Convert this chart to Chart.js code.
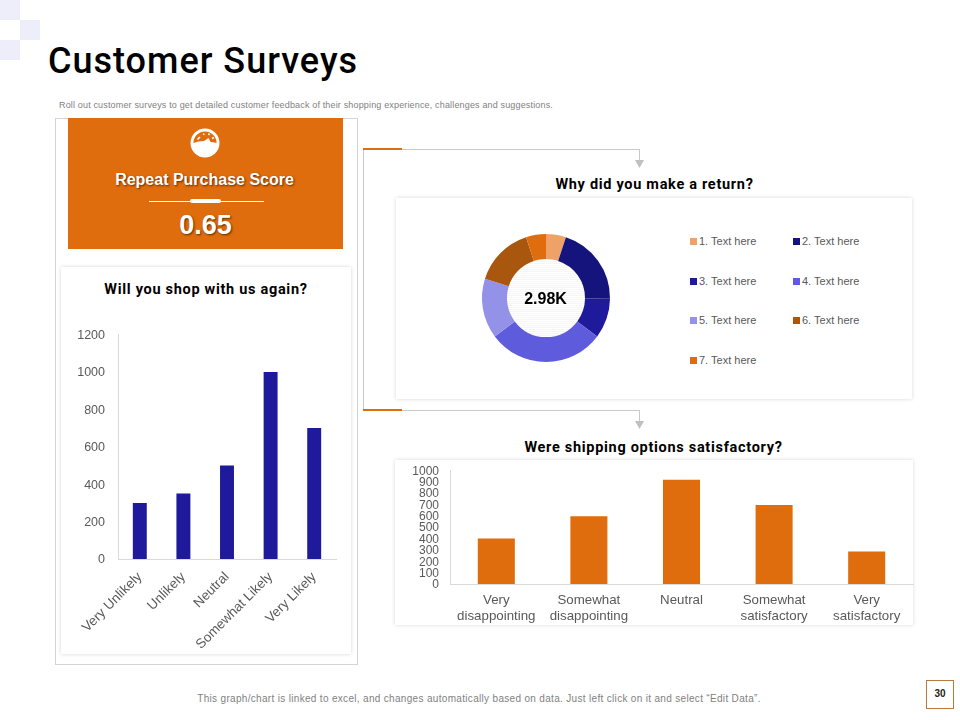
<!DOCTYPE html>
<html>
<head>
<meta charset="utf-8">
<title>Customer Surveys</title>
<script src="https://cdn.jsdelivr.net/npm/chart.js@4"></script>
<style>
  html, body { margin: 0; padding: 0; background: #fff; }
  #page { position: relative; width: 960px; height: 720px; overflow: hidden; font-family: "Liberation Sans", Arial, sans-serif; }
  #page > * { position: absolute; }
  .sq { background: #eeeefa; width: 20px; height: 20px; }
  .card { background: #fff; box-shadow: 0 0 4px rgba(0,0,0,0.16); }
  .head { font-family: Roboto, sans-serif; font-weight: 700; font-size: 14.5px; letter-spacing: 0.7px; color: #000; text-align: center; white-space: nowrap; }
  .line { background: #c9c9c9; }
  .orange { background: #df6c0d; }
  .legend-item { font-size: 11px; color: #595959; line-height: 14px; white-space: nowrap; }
  .legend-item i { display: inline-block; width: 7px; height: 7px; margin-right: 2px; vertical-align: 0; }
</style>
</head>
<body>
<div id="page">
  <div class="sq" style="left:0;top:0"></div>
  <div class="sq" style="left:20px;top:20px"></div>
  <div class="sq" style="left:0;top:40px"></div>

  <div style="left:48px;top:39px;font-family:Roboto,sans-serif;font-weight:500;font-size:36px;line-height:44px;letter-spacing:1px;color:#000">Customer Surveys</div>
  <div style="left:59px;top:99px;font-size:9px;line-height:12px;letter-spacing:0.16px;color:#7f7f7f">Roll out customer surveys to get detailed customer feedback of their shopping experience, challenges and suggestions.</div>

  <!-- kiri -->
  <div style="left:55px;top:118px;width:301px;height:545px;border:1px solid #d4d4d4;box-sizing:content-box"></div>
  <div class="orange" style="left:68px;top:118px;width:275px;height:131px"></div>
  <svg style="left:190px;top:128px" width="30" height="30" viewBox="0 0 30 30">
    <circle cx="15" cy="15" r="14.5" fill="#fff"/>
    <path d="M3.5 15 A11.5 11.5 0 0 1 26.5 15 Q23 14 20.5 14 L18.5 10 L14 13 Q8 13 3.5 15 Z" fill="#df6c0d"/>
    <path d="M7.5 11.5 L10 9 M13.5 7 L14 5.5 M18.5 7 L19.5 5.5 M22 10.5 L24 9.5" stroke="#fff" stroke-width="1.5"/>
  </svg>
  <div style="left:67px;width:275px;top:170px;text-align:center;font-weight:700;font-size:16px;line-height:19px;color:#fff;text-shadow:1px 1px 2px rgba(70,35,0,0.85)">Repeat Purchase Score</div>
  <div style="left:149px;top:201px;width:115px;height:1px;background:#fff"></div>
  <div style="left:190px;top:199px;width:31px;height:4px;border-radius:2px;background:#fff"></div>
  <div style="left:68px;width:275px;top:210px;text-align:center;font-weight:700;font-size:27px;line-height:31px;color:#fff;text-shadow:1px 1px 2px rgba(70,35,0,0.85)">0.65</div>

  <div class="card" style="left:61px;top:267px;width:290px;height:387px"></div>
  <div class="head" style="left:61px;width:290px;top:281px">Will you shop with us again?</div>
  <canvas id="shopChart" style="left:60px;top:322px;width:290px;height:333px" width="290" height="333"></canvas>

  <!-- penghubung -->
  <div class="line" style="left:363px;top:148px;width:1px;height:262px"></div>
  <div class="line" style="left:402px;top:149px;width:237px;height:1px"></div>
  <div class="line" style="left:639px;top:149px;width:1px;height:12px"></div>
  <div class="orange" style="left:363px;top:148px;width:39px;height:2px"></div>
  <svg style="left:635px;top:160px" width="9" height="9"><path d="M0 0 H9 L4.5 8 Z" fill="#c0c0c0"/></svg>
  <div class="line" style="left:402px;top:410px;width:237px;height:1px"></div>
  <div class="line" style="left:639px;top:410px;width:1px;height:12px"></div>
  <div class="orange" style="left:363px;top:409px;width:39px;height:2px"></div>
  <svg style="left:635px;top:421px" width="9" height="9"><path d="M0 0 H9 L4.5 8 Z" fill="#c0c0c0"/></svg>

  <!-- donat -->
  <div class="head" style="left:396px;width:517px;top:176px">Why did you make a return?</div>
  <div class="card" style="left:396px;top:198px;width:516px;height:201px"></div>
  <div style="left:506px;top:258px;width:80px;height:80px;border-radius:50%;background:repeating-linear-gradient(#fff 0 1px,#f6f6f6 1px 2px)"></div>
  <canvas id="returnChart" style="left:476px;top:228px;width:140px;height:140px" width="140" height="140"></canvas>
  <div style="left:506px;width:79px;top:289px;text-align:center;font-weight:700;font-size:16px;line-height:19px;color:#000">2.98K</div>
  <div id="legend" style="left:0;top:0"></div>

  <!-- pengiriman -->
  <div class="head" style="left:395px;width:517px;top:439px">Were shipping options satisfactory?</div>
  <div class="card" style="left:395px;top:460px;width:518px;height:165px"></div>
  <canvas id="shipChart" style="left:396px;top:460px;width:520px;height:165px" width="520" height="165"></canvas>

  <div style="left:0;width:958px;top:692px;text-align:center;font-size:10px;line-height:13px;letter-spacing:0.32px;color:#7f7f7f">This graph/chart is linked to excel, and changes automatically based on data. Just left click on it and select “Edit Data”.</div>
  <div style="left:926px;top:680px;width:26px;height:27px;border:1px solid #b57a3c;text-align:center;font-weight:700;font-size:10px;line-height:26px;color:#222">30</div>
</div>

<script>
// Data
const shopLabels = ["Very Unlikely", "Unlikely", "Neutral", "Somewhat Likely", "Very Likely"];
const shopValues = [300, 350, 500, 1000, 700];

const returnLabels = ["1. Text here", "2. Text here", "3. Text here", "4. Text here", "5. Text here", "6. Text here", "7. Text here"];
const returnValues = [150, 600, 300, 880, 450, 450, 150];
const returnColors = ["#efa268", "#14147c", "#1f1a9c", "#5e5bdc", "#9391e8", "#a9570e", "#df6c0d"];

const shipLabels = [["Very", "disappointing"], ["Somewhat", "disappointing"], "Neutral", ["Somewhat", "satisfactory"], ["Very", "satisfactory"]];
const shipValues = [400, 595, 915, 695, 285];

const fontName = "'Liberation Sans', Arial, sans-serif";
const tickColor = "#595959";
const axisColor = "#d9d9d9";
const plainTick = (v) => String(v); // tanpa pemisah ribuan

// Grafik batang kiri
new Chart(document.getElementById("shopChart"), {
  type: "bar",
  data: {
    labels: shopLabels,
    datasets: [{ data: shopValues, backgroundColor: "#1f1a9c", categoryPercentage: 1, barPercentage: 0.32 }]
  },
  options: {
    responsive: false,
    animation: false,
    layout: { padding: { top: 10, right: 14, bottom: 0, left: 0 } },
    plugins: { legend: { display: false }, tooltip: { enabled: false } },
    scales: {
      x: {
        grid: { display: false },
        border: { color: axisColor },
        ticks: { color: tickColor, font: { family: fontName, size: 13.5 }, minRotation: 45, maxRotation: 45, padding: 2 },
        afterFit: (s) => { s.height = 96; }
      },
      y: {
        min: 0,
        max: 1200,
        grid: { display: false },
        border: { color: axisColor },
        ticks: { color: tickColor, font: { family: fontName, size: 12.5 }, stepSize: 200, padding: 5, labelOffset: 1, callback: plainTick },
        afterFit: (s) => { s.width = 58; }
      }
    }
  }
});

// Donat
new Chart(document.getElementById("returnChart"), {
  type: "doughnut",
  data: {
    labels: returnLabels,
    datasets: [{ data: returnValues, backgroundColor: returnColors, borderWidth: 0 }]
  },
  options: {
    responsive: false,
    animation: false,
    cutout: "61%",
    layout: { padding: 6 },
    plugins: { legend: { display: false }, tooltip: { enabled: false } }
  }
});

// Legenda manual dua kolom
const legendBox = document.getElementById("legend");
returnLabels.forEach((label, i) => {
  const item = document.createElement("div");
  item.className = "legend-item";
  item.style.position = "absolute";
  item.style.left = (i % 2 ? 793 : 690) + "px";
  item.style.top = 234 + Math.floor(i / 2) * 39.7 + "px";
  item.innerHTML = '<i style="background:' + returnColors[i] + '"></i>' + label;
  legendBox.appendChild(item);
});

// Grafik batang bawah
new Chart(document.getElementById("shipChart"), {
  type: "bar",
  data: {
    labels: shipLabels,
    datasets: [{ data: shipValues, backgroundColor: "#df6c0d", categoryPercentage: 1, barPercentage: 0.4 }]
  },
  options: {
    responsive: false,
    animation: false,
    layout: { padding: { top: 10, right: 3, bottom: 0, left: 0 } },
    plugins: { legend: { display: false }, tooltip: { enabled: false } },
    scales: {
      x: {
        grid: { display: false },
        border: { color: axisColor },
        ticks: { color: tickColor, font: { family: fontName, size: 13.3, lineHeight: 1.17 }, maxRotation: 0, padding: 1 },
        afterFit: (s) => { s.height = 41; }
      },
      y: {
        min: 0,
        max: 1000,
        grid: { display: false },
        border: { color: axisColor },
        ticks: { color: tickColor, font: { family: fontName, size: 12 }, stepSize: 100, padding: 3, labelOffset: 1, autoSkip: false, callback: plainTick },
        afterFit: (s) => { s.width = 54; }
      }
    }
  }
});
</script>
</body>
</html>
